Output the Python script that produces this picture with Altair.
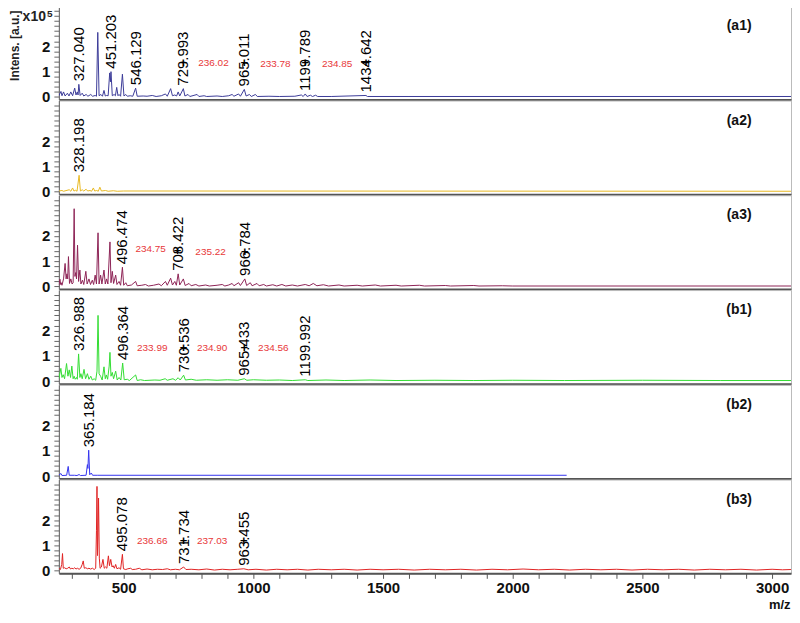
import altair as alt
import pandas as pd

FONT = "Liberation Sans"
XD = [250, 3073]
YD = [-0.1, 3.6]
W, H = 734, 94

# ---------------- spectra (m/z, intensity x1e5) ----------------
A1 = [(250,0.05),(258,0.22),(262,0.05),(268,0.2),(274,0.04),(283,0.15),(289,0.04),(296,0.2),(303,0.05),
      (311,0.35),(316,0.08),(321,0.2),(324,0.08),(327,0.5),(332,0.06),(340,0.15),(346,0.04),(355,0.1),
      (362,0.03),(373,0.1),(380,0.03),(390,0.06),(395,0.03),(400,2.55),(405,0.05),(412,0.1),(418,0.03),
      (424,0.26),(429,0.04),(434,0.06),(440,0.05),(446,0.95),(449,0.6),(451,1.0),(456,0.05),(463,0.1),
      (468,0.05),(473,0.38),(478,0.05),(482,0.1),(488,0.03),(495,0.9),(501,0.04),(508,0.1),(514,0.03),
      (525,0.05),(535,0.03),(546,0.35),(552,0.03),(575,0.04),(590,0.03),(610,0.06),(625,0.02),(645,0.05),
      (661,0.12),(668,0.03),(681,0.33),(688,0.05),(697,0.08),(704,0.04),(710,0.2),(716,0.04),(730,0.33),
      (736,0.04),(748,0.1),(755,0.02),(783,0.1),(790,0.02),(810,0.05),(820,0.02),(860,0.04),(880,0.02),
      (905,0.05),(918,0.1),(925,0.03),(943,0.12),(950,0.03),(965,0.3),(972,0.04),(985,0.1),(992,0.02),
      (1008,0.1),(1015,0.02),(1060,0.03),(1100,0.02),(1160,0.03),(1185,0.08),(1192,0.02),(1200,0.12),
      (1207,0.02),(1220,0.07),(1228,0.02),(1240,0.07),(1248,0.02),(1300,0.02),(1434,0.06),(1440,0.02),
      (1600,0.02),(3073,0.02)]

A2 = [(250,0.03),(262,0.05),(268,0.02),(290,0.08),(296,0.02),(303,0.15),(308,0.03),(315,0.06),(320,0.02),
      (328,0.65),(333,0.03),(340,0.08),(346,0.03),(355,0.1),(361,0.03),(370,0.05),(376,0.02),(383,0.15),
      (388,0.03),(396,0.05),(402,0.02),(408,0.18),(414,0.03),(430,0.05),(440,0.02),(460,0.04),(475,0.02),
      (500,0.03),(3073,0.02)]

A3 = [(250,0.05),(254,0.29),(257,0.08),(259,0.15),(262,0.05),(268,0.3),(274,0.91),(278,0.3),(281,0.5),
      (284,0.3),(287,1.18),(291,0.12),(296,0.3),(301,0.1),(305,0.15),(309,3.07),(312,0.4),(315,0.55),
      (318,0.3),(322,1.63),(326,0.2),(331,0.65),(335,0.1),(341,0.25),(346,0.08),(354,0.6),(359,0.1),
      (366,0.3),(372,0.08),(379,0.25),(384,0.08),(390,0.45),(395,0.1),(401,2.12),(405,0.1),(411,0.45),
      (416,0.1),(424,0.65),(429,0.1),(434,0.3),(439,0.1),(447,1.76),(451,0.15),(456,0.6),(461,0.12),
      (469,0.45),(474,0.08),(482,0.2),(488,0.05),(495,0.76),(500,0.05),(508,0.15),(514,0.03),(530,0.06),
      (546,0.2),(552,0.03),(570,0.05),(584,0.08),(595,0.02),(615,0.05),(636,0.1),(645,0.03),(661,0.2),
      (668,0.05),(681,0.33),(688,0.06),(697,0.2),(703,0.05),(710,0.5),(716,0.06),(730,0.3),(737,0.04),
      (752,0.12),(760,0.03),(778,0.08),(790,0.02),(816,0.06),(830,0.02),(860,0.05),(880,0.08),(890,0.02),
      (905,0.06),(918,0.12),(925,0.03),(943,0.15),(950,0.04),(967,0.3),(974,0.04),(988,0.15),(995,0.03),
      (1014,0.12),(1022,0.03),(1040,0.08),(1050,0.02),(1075,0.07),(1090,0.02),(1110,0.08),(1125,0.02),
      (1150,0.06),(1170,0.02),(1200,0.08),(1215,0.03),(1231,0.12),(1245,0.03),(1270,0.07),(1290,0.02),
      (1330,0.06),(1350,0.02),(1400,0.05),(1420,0.02),(1470,0.06),(1490,0.02),(1550,0.05),(1570,0.02),
      (1640,0.05),(1660,0.02),(1740,0.04),(1760,0.02),(1850,0.04),(1870,0.02),(1960,0.03),(2000,0.02),
      (3073,0.02)]

B1 = [(250,0.1),(257.7,0.51),(262,0.15),(266.6,0.26),(272,0.1),(279.6,0.7),(285,0.2),(290,0.45),(295,0.15),
      (300,0.6),(305,0.1),(309,0.2),(313,0.08),(318,0.15),(321,0.08),(326,1.08),(331,0.15),(335,0.3),
      (340,0.1),(347,0.47),(353,0.1),(360,0.3),(366,0.08),(373,0.2),(379,0.05),(386,0.1),(392,0.04),
      (397,0.4),(401,2.6),(405,0.3),(411,0.2),(417,0.05),(424,0.57),(429,0.1),(433,0.25),(438,0.08),
      (444,0.6),(447,1.14),(451,0.2),(456,0.35),(461,0.1),(469,0.4),(475,0.05),(482,0.15),(489,0.05),
      (496,0.72),(502,0.06),(514,0.08),(522,0.03),(546,0.25),(552,0.03),(565,0.06),(580,0.03),(620,0.05),
      (640,0.04),(660,0.1),(668,0.04),(690,0.1),(700,0.04),(710,0.14),(718,0.05),(731,0.24),(738,0.05),
      (760,0.08),(780,0.04),(820,0.06),(860,0.04),(900,0.06),(940,0.04),(965,0.1),(975,0.04),(1000,0.06),
      (1050,0.04),(1100,0.05),(1150,0.03),(1200,0.06),(1210,0.03),(1280,0.05),(1350,0.03),(1450,0.05),
      (1550,0.03),(1700,0.04),(1850,0.03),(2000,0.04),(2200,0.03),(2500,0.04),(2800,0.03),(3073,0.03)]

B2 = [(250,0.03),(258,0.1),(262,0.02),(280,0.03),(286,0.38),(290,0.03),(310,0.03),(320,0.02),(328,0.06),
      (333,0.02),(355,0.03),(360,0.45),(362,0.3),(365,1.02),(369,0.05),(375,0.12),(380,0.03),(400,0.03),
      (2208,0.03)]

B3 = [(250,0.1),(256,0.05),(261,0.25),(264,0.68),(267,0.1),(272,0.12),(278,0.08),(284,0.1),(290,0.15),
      (295,0.07),(300,0.1),(306,0.08),(311,0.12),(316,0.07),(322,0.1),(328,0.06),(334,0.1),(340,0.25),
      (344,0.39),(348,0.1),(354,0.12),(360,0.08),(366,0.1),(372,0.07),(380,0.1),(386,0.05),(392,0.1),
      (395,1.6),(397,3.33),(399,0.6),(401,1.5),(403,2.87),(406,0.5),(409,0.1),(414,0.15),(420,0.45),
      (425,0.1),(430,0.15),(435,0.1),(441,0.59),(445,0.2),(450,0.45),(455,0.15),(459,0.2),(464,0.1),
      (469,0.25),(474,0.08),(482,0.12),(488,0.06),(495,0.65),(499,0.08),(508,0.05),(516,0.08),(527,0.1),
      (533,0.05),(546,0.06),(560,0.1),(570,0.04),(590,0.07),(610,0.04),(630,0.06),(650,0.05),(668,0.08),
      (680,0.04),(700,0.06),(715,0.04),(731,0.15),(740,0.05),(760,0.06),(790,0.04),(820,0.07),(850,0.03),
      (880,0.06),(910,0.04),(940,0.06),(963,0.08),(980,0.04),(1010,0.06),(1050,0.03),(1090,0.06),
      (1130,0.04),(1170,0.06),(1210,0.03),(1250,0.06),(1300,0.04),(1350,0.06),(1400,0.03),(1450,0.06),
      (1500,0.04),(1560,0.06),(1620,0.03),(1680,0.06),(1740,0.04),(1800,0.06),(1860,0.03),(1920,0.06),
      (1980,0.04),(2040,0.07),(2100,0.04),(2160,0.06),(2220,0.03),(2280,0.06),(2340,0.04),(2400,0.06),
      (2460,0.03),(2520,0.06),(2580,0.04),(2640,0.06),(2700,0.03),(2760,0.06),(2820,0.04),(2880,0.06),
      (2940,0.03),(3000,0.06),(3040,0.04),(3073,0.05)]

# ---------------- annotations ----------------
A1_PEAKS = [(327,0.5,"327.040"),(451,1.0,"451.203"),(546,0.35,"546.129"),(730,0.33,"729.993"),
            (965,0.3,"965.011"),(1200,0.12,"1199.789"),(1434.6,0.06,"1434.642")]
A2_PEAKS = [(328,0.65,"328.198")]
A3_PEAKS = [(495,0.76,"496.474"),(708,0.5,"708.422"),(966.8,0.3,"966.784")]
B1_PEAKS = [(326,1.08,"326.988"),(496,0.72,"496.364"),(731,0.24,"730.536"),(965,0.1,"965.433"),
            (1200,0.06,"1199.992")]
B2_PEAKS = [(365,1.02,"365.184")]
B3_PEAKS = [(495,0.65,"495.078"),(731,0.15,"731.734"),(963,0.08,"963.455")]

A1_DIFF = [(846,1.35,"236.02"),(1085,1.32,"233.78"),(1323,1.32,"234.85")]
A3_DIFF = [(604,1.5,"234.75"),(835,1.37,"235.22")]
B1_DIFF = [(610,1.33,"233.99"),(841,1.33,"234.90"),(1077,1.33,"234.56")]
B3_DIFF = [(610,1.18,"236.66"),(841,1.18,"237.03")]

A1_MARK = [(730,1.35),(965,1.35),(1200,1.35),(1434.6,1.35)]
A3_MARK = [(708,1.42),(966.8,1.38)]
B1_MARK = [(731,1.33),(965,1.33)]
B3_MARK = [(731,1.18),(963,1.18)]

COLORS = ["#3c3c99", "#e8b923", "#8e2456", "#33dd33", "#3535ee", "#e02424"]
TAGS = ["(a1)", "(a2)", "(a3)", "(b1)", "(b2)", "(b3)"]

YTICKS = [0, 0.2, 0.4, 0.6, 0.8, 1, 1.2, 1.4, 1.6, 1.8, 2, 2.2, 2.4, 2.6, 2.8, 3, 3.2, 3.4]
XTICKS = list(range(300, 3001, 100))


def panel(spec, color, tag, peaks, diffs, marks, bottom=False, top=False):
    if bottom:
        xaxis = alt.Axis(values=XTICKS, labelOverlap=False,
                         labelExpr="datum.value % 500 == 0 ? format(datum.value, 'd') : ''",
                         title="m/z", titleX=W - 1, titleY=25, titleAlign="right", titleBaseline="top",
                         titleFont=FONT, titleFontSize=13, titleFontWeight="bold", titleColor="#111",
                         labelFont=FONT, labelFontSize=15, labelFontWeight="bold", labelColor="#111",
                         tickSize=5, tickColor="#555", domainColor="#555", domainWidth=2,
                         labelPadding=2, grid=False)
    else:
        xaxis = alt.Axis(labels=False, ticks=False, title=None, domainColor="#555",
                         domainWidth=2, grid=False, minExtent=0, maxExtent=0, titlePadding=0)
    yaxis = alt.Axis(values=YTICKS, labelOverlap=False,
                     labelExpr="(datum.value == 0 || datum.value == 1 || datum.value == 2) ? format(datum.value, 'd') : ''",
                     title=None, tickSize=5, tickColor="#666", domainColor="#666",
                     labelFont=FONT, labelFontSize=15, labelFontWeight="bold", labelColor="#111",
                     labelPadding=4, grid=False)
    x = alt.X("mz:Q", scale=alt.Scale(domain=XD, nice=False, zero=False), axis=xaxis)
    y = alt.Y("i:Q", scale=alt.Scale(domain=YD, nice=False, zero=False), axis=yaxis)

    layers = []
    df = pd.DataFrame(spec, columns=["mz", "i"])
    layers.append(alt.Chart(df).mark_line(color=color, strokeWidth=1, clip=True).encode(x=x, y=y))

    pk = pd.DataFrame(peaks, columns=["mz", "i", "t"])
    layers.append(alt.Chart(pk).mark_text(angle=270, align="left", baseline="middle", dx=3,
                                          font=FONT, fontSize=15, color="#000")
                  .encode(x=x, y=y, text="t:N"))
    if diffs:
        dd = pd.DataFrame(diffs, columns=["mz", "i", "t"])
        layers.append(alt.Chart(dd).mark_text(font=FONT, fontSize=10, color="#e8383a")
                      .encode(x=x, y=y, text="t:N"))
    if marks:
        mm = pd.DataFrame(marks, columns=["mz", "i"])
        mm["t"] = "+"
        layers.append(alt.Chart(mm).mark_text(font=FONT, fontSize=13, fontWeight="bold", color="#000")
                      .encode(x=x, y=y, text="t:N"))
    tg = pd.DataFrame({"mz": [2873], "i": [2.81], "t": [tag]})
    layers.append(alt.Chart(tg).mark_text(font=FONT, fontSize=14, fontWeight="bold", color="#111")
                  .encode(x=x, y=y, text="t:N"))
    if top:
        t1 = pd.DataFrame({"t": ["Intens. [a.u.]"]})
        layers.append(alt.Chart(t1).mark_text(angle=270, align="center", baseline="middle",
                                              font=FONT, fontSize=12, fontWeight="bold", color="#222")
                      .encode(x=alt.value(-44), y=alt.value(40), text="t:N"))
        t2 = pd.DataFrame({"t": ["x10"]})
        layers.append(alt.Chart(t2).mark_text(align="right", baseline="middle",
                                              font=FONT, fontSize=14, fontWeight="bold", color="#222")
                      .encode(x=alt.value(-13), y=alt.value(11), text="t:N"))
        t3 = pd.DataFrame({"t": ["5"]})
        layers.append(alt.Chart(t3).mark_text(align="left", baseline="top",
                                              font=FONT, fontSize=10, fontWeight="bold", color="#222")
                      .encode(x=alt.value(-12), y=alt.value(3), text="t:N"))
    return alt.layer(*layers).properties(width=W, height=H)


panels = [
    panel(A1, COLORS[0], TAGS[0], A1_PEAKS, A1_DIFF, A1_MARK, top=True),
    panel(A2, COLORS[1], TAGS[1], A2_PEAKS, [], []),
    panel(A3, COLORS[2], TAGS[2], A3_PEAKS, A3_DIFF, A3_MARK),
    panel(B1, COLORS[3], TAGS[3], B1_PEAKS, B1_DIFF, B1_MARK),
    panel(B2, COLORS[4], TAGS[4], B2_PEAKS, [], []),
    panel(B3, COLORS[5], TAGS[5], B3_PEAKS, B3_DIFF, B3_MARK, bottom=True),
]

chart = alt.vconcat(*panels, spacing=1, bounds="flush").properties(
    padding={"top": -6, "left": 0, "right": 0, "bottom": 0}).configure_view(
    stroke="#bbbbbb", strokeWidth=1)

chart.save("out.html", embed_options={"renderer": "svg", "actions": False})
